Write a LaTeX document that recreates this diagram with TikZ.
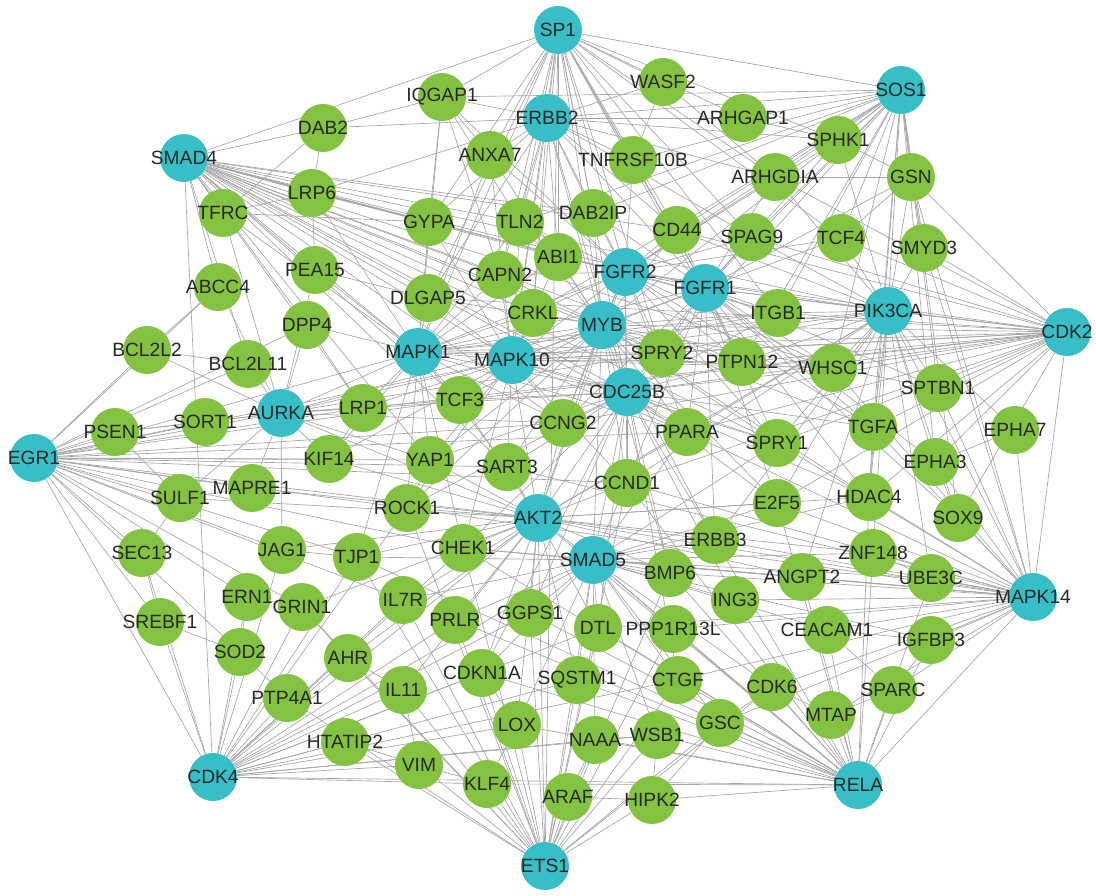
\documentclass[tikz,border=0pt]{standalone}
\usepackage{fontspec}
\setmainfont{Liberation Sans}
\usetikzlibrary{backgrounds}
\definecolor{hubc}{RGB}{56,190,199}
\definecolor{gnc}{RGB}{132,195,66}
\definecolor{edgec}{RGB}{165,165,165}
\definecolor{txtc}{RGB}{40,40,40}
\tikzset{
  hub/.style={circle, fill=hubc, minimum size=36pt, inner sep=0pt},
  gn/.style={circle, fill=gnc, minimum size=36pt, inner sep=0pt},
  lbl/.style={font=\fontsize{14.4}{16}\selectfont, text=txtc, inner sep=0pt},
  edge/.style={draw=edgec, line width=0.5pt}
}
\newcommand\NN[4]{\node[#1, label={[lbl]center:#4}] (#4) at (#2,#3) {};}
\begin{document}
\begin{tikzpicture}[x=0.75pt,y=-0.75pt]
\useasboundingbox (0,0) rectangle (1096,896);
% hubs
\NN{hub}{558}{30}{SP1}
\NN{hub}{901}{90}{SOS1}
\NN{hub}{547}{118}{ERBB2}
\NN{hub}{184}{158}{SMAD4}
\NN{hub}{625}{272}{FGFR2}
\NN{hub}{705}{288}{FGFR1}
\NN{hub}{602}{325}{MYB}
\NN{hub}{888}{311}{PIK3CA}
\NN{hub}{1067}{332}{CDK2}
\NN{hub}{418}{352}{MAPK1}
\NN{hub}{512}{360}{MAPK10}
\NN{hub}{627}{392}{CDC25B}
\NN{hub}{281}{413}{AURKA}
\NN{hub}{34}{458}{EGR1}
\NN{hub}{538}{518}{AKT2}
\NN{hub}{593}{560}{SMAD5}
\NN{hub}{1033}{597}{MAPK14}
\NN{hub}{213}{777}{CDK4}
\NN{hub}{858}{785}{RELA}
\NN{hub}{545}{866}{ETS1}
% green nodes
\NN{gn}{442}{97}{IQGAP1}
\NN{gn}{663}{82}{WASF2}
\NN{gn}{323}{128}{DAB2}
\NN{gn}{743}{118}{ARHGAP1}
\NN{gn}{490}{155}{ANXA7}
\NN{gn}{633}{160}{TNFRSF10B}
\NN{gn}{838}{140}{SPHK1}
\NN{gn}{775}{177}{ARHGDIA}
\NN{gn}{911}{177}{GSN}
\NN{gn}{312}{193}{LRP6}
\NN{gn}{223}{213}{TFRC}
\NN{gn}{429}{222}{GYPA}
\NN{gn}{520}{222}{TLN2}
\NN{gn}{593}{213}{DAB2IP}
\NN{gn}{677}{230}{CD44}
\NN{gn}{752}{237}{SPAG9}
\NN{gn}{841}{238}{TCF4}
\NN{gn}{924}{248}{SMYD3}
\NN{gn}{558}{257}{ABI1}
\NN{gn}{500}{275}{CAPN2}
\NN{gn}{315}{270}{PEA15}
\NN{gn}{218}{287}{ABCC4}
\NN{gn}{428}{298}{DLGAP5}
\NN{gn}{307}{325}{DPP4}
\NN{gn}{533}{313}{CRKL}
\NN{gn}{778}{313}{ITGB1}
\NN{gn}{147}{350}{BCL2L2}
\NN{gn}{248}{364}{BCL2L11}
\NN{gn}{662}{353}{SPRY2}
\NN{gn}{742}{362}{PTPN12}
\NN{gn}{833}{368}{WHSC1}
\NN{gn}{938}{388}{SPTBN1}
\NN{gn}{115}{432}{PSEN1}
\NN{gn}{205}{422}{SORT1}
\NN{gn}{363}{408}{LRP1}
\NN{gn}{460}{400}{TCF3}
\NN{gn}{563}{423}{CCNG2}
\NN{gn}{687}{432}{PPARA}
\NN{gn}{777}{443}{SPRY1}
\NN{gn}{873}{427}{TGFA}
\NN{gn}{1015}{430}{EPHA7}
\NN{gn}{935}{462}{EPHA3}
\NN{gn}{329}{459}{KIF14}
\NN{gn}{430}{460}{YAP1}
\NN{gn}{507}{467}{SART3}
\NN{gn}{627}{483}{CCND1}
\NN{gn}{252}{488}{MAPRE1}
\NN{gn}{180}{498}{SULF1}
\NN{gn}{407}{508}{ROCK1}
\NN{gn}{777}{503}{E2F5}
\NN{gn}{869}{497}{HDAC4}
\NN{gn}{958}{518}{SOX9}
\NN{gn}{142}{553}{SEC13}
\NN{gn}{282}{550}{JAG1}
\NN{gn}{357}{557}{TJP1}
\NN{gn}{463}{548}{CHEK1}
\NN{gn}{715}{540}{ERBB3}
\NN{gn}{873}{553}{ZNF148}
\NN{gn}{931}{578}{UBE3C}
\NN{gn}{247}{597}{ERN1}
\NN{gn}{302}{607}{GRIN1}
\NN{gn}{403}{600}{IL7R}
\NN{gn}{670}{573}{BMP6}
\NN{gn}{802}{577}{ANGPT2}
\NN{gn}{735}{600}{ING3}
\NN{gn}{160}{622}{SREBF1}
\NN{gn}{455}{620}{PRLR}
\NN{gn}{530}{613}{GGPS1}
\NN{gn}{598}{628}{DTL}
\NN{gn}{673}{629}{PPP1R13L}
\NN{gn}{827}{630}{CEACAM1}
\NN{gn}{931}{640}{IGFBP3}
\NN{gn}{240}{652}{SOD2}
\NN{gn}{348}{658}{AHR}
\NN{gn}{482}{673}{CDKN1A}
\NN{gn}{577}{680}{SQSTM1}
\NN{gn}{678}{680}{CTGF}
\NN{gn}{772}{687}{CDK6}
\NN{gn}{893}{690}{SPARC}
\NN{gn}{287}{698}{PTP4A1}
\NN{gn}{403}{690}{IL11}
\NN{gn}{517}{725}{LOX}
\NN{gn}{720}{723}{GSC}
\NN{gn}{831}{715}{MTAP}
\NN{gn}{345}{742}{HTATIP2}
\NN{gn}{595}{740}{NAAA}
\NN{gn}{657}{735}{WSB1}
\NN{gn}{419}{765}{VIM}
\NN{gn}{487}{784}{KLF4}
\NN{gn}{568}{797}{ARAF}
\NN{gn}{652}{800}{HIPK2}
% edges
\begin{scope}[on background layer]
\foreach \t in {SMAD4,IQGAP1,ERBB2,WASF2,ARHGAP1,SOS1,TNFRSF10B,ANXA7,DAB2IP,TLN2,ABI1,CAPN2,FGFR2,CD44,ARHGDIA,SPHK1,MYB,CRKL,MAPK10,CDC25B,SPAG9,FGFR1,ITGB1,GYPA,DLGAP5,TCF4,PTPN12,SPRY2,ETS1,MAPK1}
  \draw[edge] (SP1) -- (\t);
\foreach \t in {IQGAP1,ARHGAP1,SPHK1,ARHGDIA,GSN,TCF4,SMYD3,PIK3CA,SPAG9,CD44,FGFR1,DAB2IP,TNFRSF10B,ITGB1,WHSC1,TGFA,SPTBN1,EPHA3,SOX9,HDAC4,FGFR2,ERBB2,MYB,PTPN12,SPRY2,CRKL,TLN2}
  \draw[edge] (SOS1) -- (\t);
\foreach \t in {DAB2,TFRC,LRP6,GYPA,PEA15,DLGAP5,MAPK1,ABCC4,DPP4,TLN2,DAB2IP,CAPN2,MAPK10,CRKL,ABI1,FGFR2,MYB,FGFR1,ITGB1,CDC25B,SPRY2,TCF3,CDK4,LRP1,YAP1,BCL2L11,CD44,PTPN12,WHSC1,PIK3CA,SART3,CCNG2,PPARA,SPRY1}
  \draw[edge] (SMAD4) -- (\t);
\foreach \t in {PIK3CA,ITGB1,WHSC1,SPTBN1,TGFA,PTPN12,SPRY2,FGFR1,SPAG9,TCF4,SMYD3,GSN,MYB,CDC25B,PPARA,SPRY1,MAPK14,E2F5,HDAC4,CCND1,MAPK10,EPHA3,SOX9,CD44,FGFR2,ARHGDIA,MAPK1,CCNG2,TCF3,LRP1,DLGAP5}
  \draw[edge] (CDK2) -- (\t);
\foreach \t in {SOX9,UBE3C,ZNF148,IGFBP3,CEACAM1,ANGPT2,ING3,HDAC4,EPHA3,EPHA7,SPTBN1,TGFA,PIK3CA,WHSC1,E2F5,ERBB3,BMP6,SMAD5,AKT2,CDK6,CTGF,PPP1R13L,RELA,SPARC,MTAP,DTL,SPRY1,PPARA,CCND1,GSC,SMYD3,GSN,CHEK1,SART3,ROCK1}
  \draw[edge] (MAPK14) -- (\t);
\foreach \t in {MTAP,SPARC,CDK6,GSC,CTGF,WSB1,HIPK2,NAAA,IGFBP3,CEACAM1,PPP1R13L,DTL,SQSTM1,CDKN1A,LOX,ING3,ANGPT2,ERBB3,BMP6,SMAD5,AKT2,CDK4,GGPS1,ZNF148,UBE3C,E2F5,HDAC4,PRLR,CCND1,KLF4,CHEK1,TJP1}
  \draw[edge] (RELA) -- (\t);
\foreach \t in {ARAF,HIPK2,NAAA,WSB1,KLF4,LOX,VIM,IL11,HTATIP2,CDKN1A,SQSTM1,CTGF,GSC,DTL,GGPS1,PRLR,AHR,CDK6,PPP1R13L,SMAD5,AKT2,IL7R,PTP4A1,CHEK1,BMP6,CCND1,ROCK1,GRIN1,TJP1}
  \draw[edge] (ETS1) -- (\t);
\foreach \t in {PTP4A1,SOD2,SREBF1,HTATIP2,AHR,IL11,VIM,GRIN1,ERN1,KLF4,LOX,CDKN1A,PRLR,IL7R,TJP1,JAG1,SEC13,EGR1,SQSTM1,CHEK1,ROCK1,AKT2,NAAA,GGPS1,DTL,SMAD5,CTGF,WSB1}
  \draw[edge] (CDK4) -- (\t);
\foreach \t in {BCL2L2,PSEN1,SORT1,AURKA,SULF1,MAPRE1,SEC13,SREBF1,BCL2L11,ABCC4,KIF14,YAP1,JAG1,ERN1,GRIN1,LRP1,TCF3,MAPK1,ROCK1,TJP1,IL7R,CHEK1,SART3,AKT2,CCND1,SOD2,CCNG2,MAPK10,DPP4,PPARA}
  \draw[edge] (EGR1) -- (\t);
\foreach \t in {PSEN1,SORT1,BCL2L11,BCL2L2,MAPK1,LRP1,KIF14,MAPRE1,DPP4,PEA15,TFRC,YAP1,TCF3,MAPK10,MYB,CDC25B,SULF1,JAG1,ABCC4,CCNG2,AKT2,SPRY2}
  \draw[edge] (AURKA) -- (\t);
\foreach \t in {DLGAP5,PEA15,GYPA,DPP4,LRP6,TFRC,LRP1,TCF3,YAP1,KIF14,ROCK1,CAPN2,CRKL,ABI1,TLN2,IQGAP1,ANXA7,FGFR2,FGFR1,MYB,MAPK10,ITGB1,PIK3CA,SART3,CHEK1,TJP1,CCNG2,SPRY2,CDC25B,PPARA,WHSC1}
  \draw[edge] (MAPK1) -- (\t);
\foreach \t in {DLGAP5,CAPN2,CRKL,ABI1,TLN2,ANXA7,GYPA,TCF3,SART3,YAP1,CCNG2,LRP1,MYB,FGFR2,FGFR1,CDC25B,PPARA,AKT2,CCND1,SPRY2,PTPN12,ITGB1,WHSC1,PIK3CA,ROCK1,CHEK1,KIF14,SPRY1}
  \draw[edge] (MAPK10) -- (\t);
\foreach \t in {CRKL,FGFR2,FGFR1,CDC25B,ABI1,DAB2IP,CD44,SPRY2,PTPN12,ITGB1,CCNG2,PPARA,TCF3,SART3,CCND1,AKT2,SMAD5,YAP1,ROCK1,SPRY1,E2F5,TGFA,SPTBN1,HDAC4,ERBB3,BMP6,TLN2,CAPN2,DLGAP5,ANXA7}
  \draw[edge] (MYB) -- (\t);
\foreach \t in {ABI1,DAB2IP,CD44,TLN2,CAPN2,CRKL,FGFR1,ITGB1,SPRY2,CDC25B,PPARA,SPAG9,TNFRSF10B,ARHGDIA,SPHK1,TCF4,PIK3CA,WHSC1,PTPN12,CCNG2,CCND1,SPRY1,TGFA,AKT2,IQGAP1,ANXA7}
  \draw[edge] (FGFR2) -- (\t);
\foreach \t in {CD44,SPAG9,ITGB1,PTPN12,WHSC1,PIK3CA,SPRY2,SPRY1,PPARA,TCF4,ARHGDIA,SPHK1,GSN,TGFA,SPTBN1,EPHA3,HDAC4,E2F5,CDC25B,CCND1,CCNG2,DAB2IP,TNFRSF10B,ERBB3,SOX9}
  \draw[edge] (FGFR1) -- (\t);
\foreach \t in {ITGB1,WHSC1,SPTBN1,TGFA,EPHA3,HDAC4,SOX9,ZNF148,TCF4,SMYD3,GSN,SPHK1,ARHGDIA,SPAG9,CD44,PTPN12,SPRY2,SPRY1,E2F5,PPARA,ERBB3,UBE3C,ANGPT2,CCND1,AKT2,EPHA7}
  \draw[edge] (PIK3CA) -- (\t);
\foreach \t in {SPRY2,PPARA,CCNG2,CCND1,SART3,TCF3,AKT2,SMAD5,E2F5,ERBB3,BMP6,SPRY1,PTPN12,ITGB1,CHEK1,YAP1,ROCK1,CDKN1A,DTL,GGPS1,ING3,CTGF,HDAC4,TGFA,WHSC1}
  \draw[edge] (CDC25B) -- (\t);
\foreach \t in {SART3,CCND1,CHEK1,SMAD5,CCNG2,ROCK1,YAP1,TCF3,PRLR,GGPS1,IL7R,CDKN1A,DTL,SQSTM1,BMP6,ERBB3,E2F5,PPARA,TJP1,KIF14,JAG1,MAPRE1,SULF1,LOX,IL11,AHR,GRIN1,HDAC4,ZNF148,ANGPT2}
  \draw[edge] (AKT2) -- (\t);
\foreach \t in {CCND1,BMP6,ERBB3,GGPS1,DTL,PPP1R13L,SQSTM1,CDKN1A,CTGF,ING3,ANGPT2,E2F5,PRLR,CHEK1,LOX,WSB1,NAAA,GSC,CDK6,CEACAM1,ZNF148,UBE3C,IGFBP3,PPARA,SPRY1,HDAC4,TJP1,IL7R}
  \draw[edge] (SMAD5) -- (\t);
\foreach \t in {IQGAP1,ANXA7,TNFRSF10B,DAB2IP,TLN2,ABI1,CAPN2,CRKL,FGFR2,CD44,GYPA,DLGAP5,LRP6,DAB2,ARHGAP1,WASF2,ARHGDIA,SPAG9,MYB,FGFR1,SPHK1,MAPK10,CDC25B}
  \draw[edge] (ERBB2) -- (\t);
\foreach \a/\b in {DAB2/LRP6,LRP6/TFRC,EPHA7/EPHA3,IQGAP1/GYPA,IQGAP1/TLN2,IQGAP1/ANXA7,DAB2/IQGAP1,GSN/SMYD3,SPHK1/GSN,ARHGDIA/GSN,TCF4/GSN,PEA15/LRP6,SORT1/PSEN1,SULF1/PSEN1,SEC13/SULF1,SREBF1/SEC13,SOD2/SREBF1,ERN1/GRIN1,AHR/IL11,IL11/VIM,HTATIP2/VIM,KLF4/VIM,ARAF/HIPK2,WSB1/HIPK2,NAAA/WSB1,GSC/CDK6,MTAP/SPARC,SPARC/IGFBP3,CEACAM1/IGFBP3,UBE3C/ZNF148,SOX9/EPHA3,HDAC4/TGFA,KIF14/LRP1,YAP1/ROCK1,TJP1/JAG1,MAPRE1/SULF1,ABCC4/BCL2L2,BCL2L11/BCL2L2,DAB2/TFRC,TFRC/GYPA,LRP6/GYPA,PEA15/DLGAP5,DPP4/LRP1,IQGAP1/CAPN2,WASF2/ARHGDIA,WASF2/TNFRSF10B,ARHGAP1/SPHK1,MTAP/CDK6,SPARC/CEACAM1,HIPK2/GSC,KLF4/LOX,ARAF/NAAA,LOX/CDKN1A,GRIN1/AHR,SOD2/PTP4A1,ERN1/SOD2}
  \draw[edge] (\a) -- (\b);
\end{scope}
\end{tikzpicture}
\end{document}
